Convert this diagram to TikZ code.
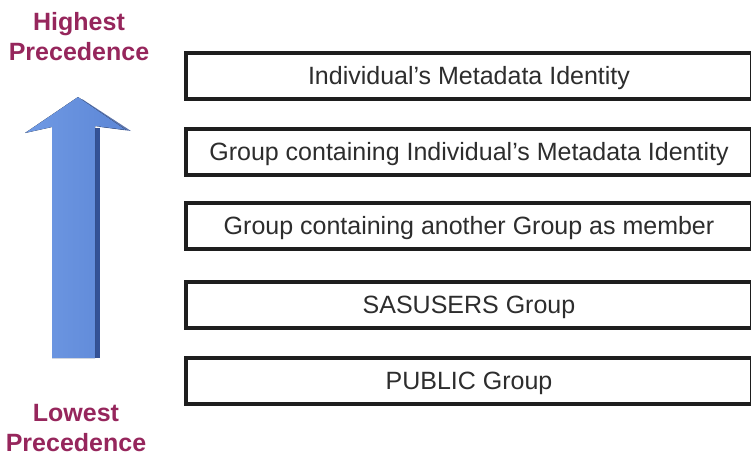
\documentclass[tikz,border=0pt]{standalone}
\usepackage{fontspec}
\setmainfont{Liberation Sans}
\definecolor{prec}{RGB}{150,38,92}
\definecolor{boxtext}{RGB}{45,45,45}
\definecolor{boxline}{RGB}{30,30,30}
\definecolor{arrowblue}{RGB}{92,134,214}
\definecolor{arrowlight}{RGB}{112,154,228}
\definecolor{arrowdark}{RGB}{52,82,150}
\begin{document}
\begin{tikzpicture}[x=1pt,y=-1pt,
  levelbox/.style={draw=boxline, line width=4pt, fill=white, minimum width=566pt, minimum height=46pt, inner sep=0pt, text=boxtext, text height=22pt, text depth=5pt, font=\fontsize{25}{30}\selectfont},
  preclabel/.style={text=prec, font=\fontsize{25}{30}\selectfont\bfseries, align=center, inner sep=0pt}]
\useasboundingbox (0,0) rectangle (751,456);
% boxes
\node[levelbox] (b1) at (469,76) {Individual's Metadata Identity};
\node[levelbox] (b2) at (469,151.5) {Group containing Individual's Metadata Identity};
\node[levelbox] (b3) at (469,226) {Group containing another Group as member};
\node[levelbox] (b4) at (469,304.5) {SASUSERS Group};
\node[levelbox] (b5) at (469,381) {PUBLIC Group};
% labels
\node[preclabel] (hi) at (79,37) {Highest\\Precedence};
\node[preclabel] (lo) at (76,428) {Lowest\\Precedence};
% arrow shadow
\fill[arrowdark] (94,128) -- (100,128) -- (100,358) -- (94,358) -- cycle;
\fill[arrowdark!80] (82,99) -- (131,131) -- (100,127) -- cycle;
% arrow body
\fill[left color=arrowlight, right color=arrowblue]
  (25,133) -- (78,97) -- (126,130) -- (95,126) -- (95,358) -- (52,358) -- (52,127) -- cycle;
\end{tikzpicture}
\end{document}
